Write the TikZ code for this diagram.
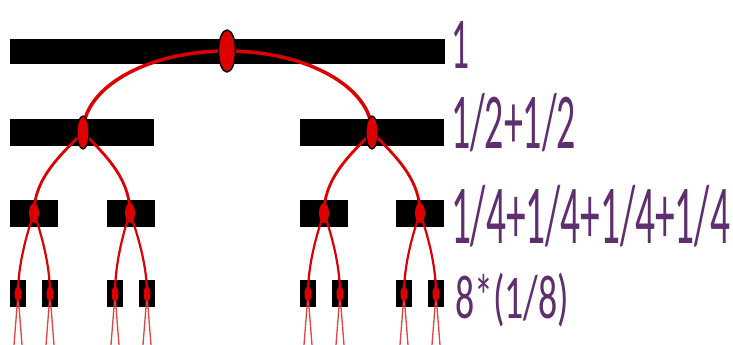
\documentclass[tikz,border=0pt]{standalone}
\usepackage{fontspec}
\setmainfont{Carlito}
\usepackage{graphicx}
\usetikzlibrary{shapes.geometric}
\definecolor{lblpurple}{RGB}{94,46,110}
\definecolor{arcred}{RGB}{221,0,0}
\pgfdeclarelayer{bars}
\pgfdeclarelayer{curves}
\pgfsetlayers{bars,curves,main}
\newcommand{\fitlabel}[3]{\resizebox{#1}{#2}{\smash{#3}\vphantom{1}}}
\begin{document}
\begin{tikzpicture}[x=1pt,y=-1pt,
  bar/.style={fill=black,inner sep=0,outer sep=0,minimum height=27pt},
  knot/.style={ellipse,fill=arcred,draw=black,inner sep=0,outer sep=0},
  knotA/.style={knot,line width=1.5pt,minimum width=17pt,minimum height=42pt},
  knotB/.style={knot,line width=1.2pt,minimum width=12pt,minimum height=33pt},
  knotC/.style={knot,draw=none,minimum width=10pt,minimum height=20pt},
  knotD/.style={knot,draw=none,minimum width=7pt,minimum height=15pt},
  arcA/.style={draw=arcred,line width=3.5pt},
  arcB/.style={draw=arcred,line width=2.8pt},
  arcC/.style={draw=arcred,line width=2.2pt},
  arcD/.style={draw=arcred!75,line width=1.3pt},
  lbl/.style={anchor=base west,inner sep=0,outer sep=0,text=lblpurple,font=\fontsize{40}{40}\selectfont}]
\useasboundingbox (0,0) rectangle (733,345);
% bars
\begin{pgfonlayer}{bars}
\node[bar,minimum width=435pt,minimum height=25pt] (bar1) at (227.5,51.5) {};
\node[bar,minimum width=144pt] (bar2a) at (82,132.5) {};
\node[bar,minimum width=144pt] (bar2b) at (372,132.5) {};
\foreach \x [count=\i] in {34,131,324,420}
  \node[bar,minimum width=48pt] (bar3-\i) at (\x,213.5) {};
\foreach \x [count=\i] in {18,50,115,147,308,340,404,436}
  \node[bar,minimum width=16pt] (bar4-\i) at (\x,293.5) {};
\end{pgfonlayer}
% knots
\node[knotA] (top) at (227,51) {};
\node[knotB] (h1) at (83,132.5) {};
\node[knotB] (h2) at (372,132.5) {};
\foreach \x [count=\i] in {34,130,324,420}
  \node[knotC] (t\i) at (\x,213) {};
\foreach \x [count=\i] in {18,50,115,147,308,340,404,436}{
  \node[knotD] (q\i) at (\x,294) {};
  \coordinate (q\i L) at (\x-4,345);
  \coordinate (q\i R) at (\x+4,345);
}
% connectors
\begin{pgfonlayer}{curves}
\draw[arcA] (top.center) .. controls +(-80,0) and +(0,-45) .. (h1.center);
\draw[arcA] (top.center) .. controls +(80,0) and +(0,-45) .. (h2.center);
\draw[arcB] (h1.center) .. controls +(-21,21) and +(0,-35) .. (t1.center);
\draw[arcB] (h1.center) .. controls +(21,21) and +(0,-35) .. (t2.center);
\draw[arcB] (h2.center) .. controls +(-21,21) and +(0,-35) .. (t3.center);
\draw[arcB] (h2.center) .. controls +(21,21) and +(0,-35) .. (t4.center);
\foreach \p/\a/\b in {t1/q1/q2,t2/q3/q4,t3/q5/q6,t4/q7/q8}{
  \draw[arcC] (\p.center) .. controls +(-7,20) and +(0,-30) .. (\a.center);
  \draw[arcC] (\p.center) .. controls +(7,20) and +(0,-30) .. (\b.center);
}
\foreach \i in {1,...,8}{
  \draw[arcD] (q\i.center) -- (q\i L);
  \draw[arcD] (q\i.center) -- (q\i R);
}
\end{pgfonlayer}
% labels
\node[lbl] (l1) at (451,68) {\fitlabel{18pt}{47pt}{1}};
\node[lbl] (l2) at (451,148) {\fitlabel{125pt}{51pt}{1/2+1/2}};
\node[lbl] (l3) at (451,243) {\fitlabel{279pt}{54pt}{1/4+1/4+1/4+1/4}};
\node[lbl] (l4) at (455,318) {\fitlabel{114pt}{40pt}{8*(1/8)}};
\end{tikzpicture}
\end{document}
